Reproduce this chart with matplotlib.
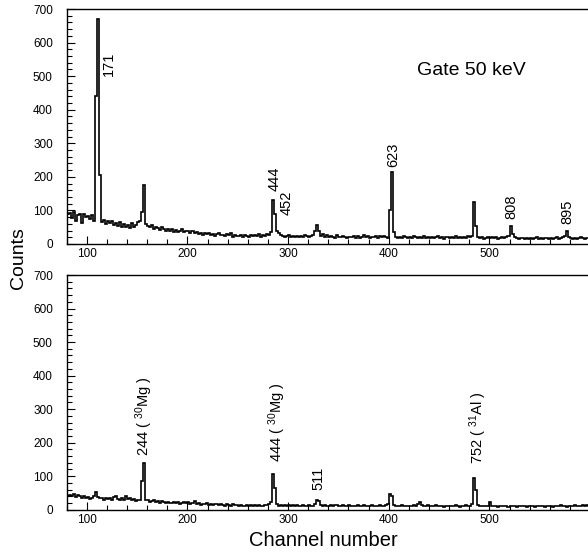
import numpy as np
import matplotlib
matplotlib.use("Agg")
import matplotlib.pyplot as plt
from matplotlib.ticker import MultipleLocator

plt.rcParams['font.family'] = ['Liberation Sans', 'DejaVu Sans']
plt.rcParams['mathtext.fontset'] = 'custom'
plt.rcParams['mathtext.rm'] = 'Liberation Sans'
plt.rcParams['mathtext.it'] = 'Liberation Sans'

# 2-channel bins from channel 80 to 600
bin_start = 80
bin_width = 2

counts_gate50 = [
    88, 92, 78, 95, 70, 85, 90, 62, 88, 80,
    82, 75, 85, 70, 440, 670, 205, 65, 72, 60,
    68, 62, 70, 58, 64, 55, 66, 52, 60, 50,
    56, 48, 62, 50, 58, 66, 70, 95, 175, 60,
    55, 50, 56, 45, 52, 48, 42, 50, 46, 40,
    45, 38, 44, 36, 42, 35, 40, 44, 36, 38,
    40, 34, 38, 32, 36, 30, 34, 28, 33, 30,
    32, 27, 30, 25, 29, 32, 26, 28, 24, 30,
    26, 33, 22, 28, 25, 24, 27, 22, 26, 24,
    22, 26, 24, 28, 23, 30, 22, 27, 25, 30,
    28, 35, 130, 88, 40, 32, 28, 25, 20, 24,
    26, 22, 24, 20, 25, 22, 24, 20, 26, 24,
    22, 25, 28, 38, 57, 40, 25, 30, 22, 26,
    20, 24, 22, 18, 26, 22, 20, 24, 21, 18,
    22, 20, 25, 19, 23, 18, 22, 26, 20, 24,
    18, 22, 20, 24, 19, 23, 20, 25, 22, 18,
    100, 215, 35, 20, 18, 22, 19, 24, 20, 17,
    21, 18, 23, 20, 17, 22, 19, 24, 18, 21,
    19, 22, 17, 20, 23, 18, 21, 16, 20, 22,
    18, 21, 17, 23, 19, 20, 17, 22, 18, 24,
    20, 25, 125, 55, 22, 18, 20, 16, 19, 21,
    17, 20, 18, 22, 16, 19, 21, 17, 20, 24,
    55, 30, 20, 18, 16, 19, 17, 15, 18, 16,
    19, 15, 17, 20, 16, 18, 14, 17, 19, 16,
    18, 15, 17, 20, 16, 19, 22, 24, 38, 20,
    17, 15, 19, 16, 18, 20, 17, 15, 19, 18,
]

counts_other = [
    42, 45, 40, 46, 38, 44, 41, 36, 40, 35,
    38, 32, 36, 40, 52, 38, 34, 36, 30, 35,
    32, 36, 30, 38, 42, 33, 30, 36, 28, 40,
    32, 35, 28, 33, 26, 30, 28, 85, 140, 30,
    28, 24, 27, 30, 22, 25, 21, 26, 23, 20,
    24, 21, 19, 23, 20, 22, 18, 21, 24, 19,
    22, 18, 20, 25, 17, 21, 15, 18, 16, 19,
    15, 17, 14, 18, 16, 13, 17, 15, 12, 16,
    14, 12, 16, 13, 15, 11, 14, 12, 10, 14,
    12, 15, 11, 13, 10, 14, 12, 11, 15, 13,
    16, 22, 105, 65, 18, 12, 14, 11, 13, 10,
    14, 12, 15, 11, 13, 12, 10, 14, 12, 11,
    13, 11, 12, 16, 30, 27, 14, 12, 13, 11,
    12, 14, 11, 13, 15, 12, 10, 14, 12, 11,
    13, 11, 12, 10, 14, 12, 11, 13, 10, 12,
    11, 13, 10, 12, 11, 14, 12, 10, 13, 18,
    48, 40, 14, 11, 12, 10, 13, 11, 12, 10,
    12, 11, 13, 10, 18, 24, 14, 12, 11, 13,
    10, 12, 11, 13, 10, 12, 11, 9, 12, 10,
    11, 12, 10, 13, 11, 9, 12, 10, 13, 11,
    12, 18, 95, 60, 14, 11, 10, 12, 11, 10,
    22, 11, 10, 12, 9, 11, 10, 12, 11, 9,
    11, 10, 12, 9, 11, 10, 12, 10, 9, 11,
    10, 12, 9, 11, 10, 12, 11, 9, 10, 12,
    11, 9, 12, 10, 11, 13, 10, 12, 9, 11,
    12, 10, 13, 11, 10, 12, 14, 11, 13, 12,
]

# peak labels: (text, channel, counts)
labels_top = [("171", 122, 536), ("444", 286.5, 195), ("452", 298.5, 123),
              ("623", 404.5, 265), ("808", 521.8, 112), ("895", 578, 97)]
labels_bottom = [("244 ( $^{30}$Mg )", 157.5, 278), ("444 ( $^{30}$Mg )", 288.7, 260),
                 ("511", 330, 93), ("752 ( $^{31}$Al )", 488.5, 243)]

W, H = 588, 554
fig = plt.figure(figsize=(W / 100, H / 100), dpi=100)

left = 66.7 / W
ax1 = fig.add_axes([left, 1 - 244 / H, 1 - left, (244 - 9) / H])
ax2 = fig.add_axes([left, 1 - 509.7 / H, 1 - left, (509.7 - 275) / H])

for ax, counts, labs in ((ax1, counts_gate50, labels_top), (ax2, counts_other, labels_bottom)):
    edges = bin_start + bin_width * np.arange(len(counts) + 1)
    ax.stairs(counts, edges, color='black', linewidth=1.2, baseline=None)
    ax.set_xlim(80, 598)
    ax.set_ylim(0, 700)
    ax.xaxis.set_major_locator(MultipleLocator(100))
    ax.xaxis.set_minor_locator(MultipleLocator(20))
    ax.yaxis.set_major_locator(MultipleLocator(100))
    ax.yaxis.set_minor_locator(MultipleLocator(20))
    ax.tick_params(which='both', direction='in', top=False, right=False,
                   labelsize=8.5, width=0.8)
    ax.tick_params(axis='y', which='major', length=6, pad=10)
    ax.tick_params(axis='y', which='minor', length=3.5)
    ax.tick_params(axis='x', which='major', length=6, pad=3)
    ax.tick_params(axis='x', which='minor', length=3.5)
    ax.spines['right'].set_visible(False)
    for s in ('left', 'top', 'bottom'):
        ax.spines[s].set_linewidth(1.0)
    for t, x, y in labs:
        ax.text(x, y, t, rotation=90, ha='center', va='center', fontsize=10.5)

ax1.text(482, 518, "Gate 50 keV", ha='center', va='center', fontsize=14)

fig.text(18 / W, 1 - 258 / H, "Counts", rotation=90, ha='center', va='center', fontsize=14)
fig.text(323 / W, 1 - 541 / H, "Channel number", ha='center', va='center', fontsize=14.5)

fig.savefig("out.png", dpi=100)
